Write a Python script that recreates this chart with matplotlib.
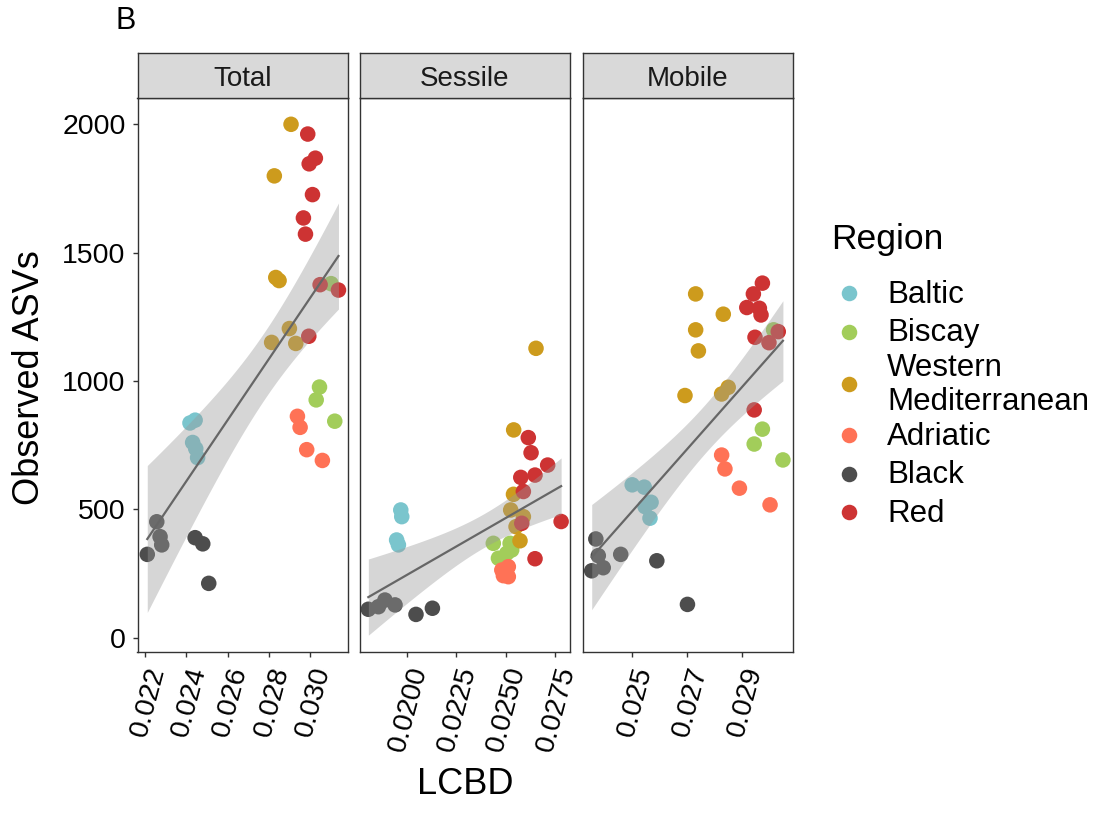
import numpy as np
import matplotlib
matplotlib.use("Agg")
import matplotlib.pyplot as plt

plt.rcParams['font.family'] = ['Liberation Sans', 'DejaVu Sans']

regions = ["Baltic", "Biscay", "Western\nMediterranean", "Adriatic", "Black", "Red"]
region_colors = ["#7AC5CD", "#A2CD5A", "#CD9B1D", "#FF7256", "#4D4D4D", "#CD3333"]
panels = ["Total", "Sessile", "Mobile"]
y_ticks = [0, 500, 1000, 1500, 2000]

# ---- Total ----
total_region = (["Baltic"] * 5 + ["Biscay"] * 4 + ["Western\nMediterranean"] * 7
                + ["Adriatic"] * 4 + ["Black"] * 7 + ["Red"] * 9)
total_lcbd = [0.02418, 0.02443, 0.02431, 0.02446, 0.02455,
              0.03102, 0.03046, 0.03030, 0.03120,
              0.02908, 0.02827, 0.02834, 0.02850, 0.02900, 0.02814, 0.02931,
              0.02939, 0.02952, 0.02984, 0.03060,
              0.02257, 0.02273, 0.02281, 0.02211, 0.02443, 0.02480, 0.02509,
              0.02989, 0.02996, 0.03026, 0.03012, 0.02968, 0.02978, 0.03049, 0.03138, 0.02994]
total_asv = [836, 847, 760, 736, 701,
             1379, 976, 926, 843,
             2000, 1799, 1403, 1391, 1204, 1150, 1146,
             862, 819, 732, 690,
             451, 393, 361, 324, 389, 365, 211,
             1962, 1846, 1868, 1726, 1635, 1572, 1375, 1354, 1174]
total_ticks = [0.022, 0.024, 0.026, 0.028, 0.030]
total_ticklabels = ["0.022", "0.024", "0.026", "0.028", "0.030"]

# ---- Sessile ----
sessile_region = (["Baltic"] * 4 + ["Biscay"] * 5 + ["Western\nMediterranean"] * 7
                  + ["Adriatic"] * 4 + ["Black"] * 6 + ["Red"] * 9)
sessile_lcbd = [0.01970, 0.01975, 0.01949, 0.01958,
                0.02438, 0.02523, 0.02531, 0.02464, 0.02506,
                0.02541, 0.02540, 0.02526, 0.02590, 0.02553, 0.02573, 0.02654,
                0.02481, 0.02514, 0.02489, 0.02514,
                0.01806, 0.01857, 0.01890, 0.01941, 0.02047, 0.02130,
                0.02615, 0.02629, 0.02713, 0.02649, 0.02577, 0.02590, 0.02582, 0.02781, 0.02649]
sessile_asv = [497, 471, 380, 361,
               367, 367, 341, 309, 328,
               809, 558, 497, 471, 432, 377, 1127,
               263, 276, 241, 237,
               110, 120, 146, 127, 90, 114,
               779, 720, 672, 633, 624, 569, 445, 452, 307]
sessile_ticks = [0.0200, 0.0225, 0.0250, 0.0275]
sessile_ticklabels = ["0.0200", "0.0225", "0.0250", "0.0275"]

# ---- Mobile ----
mobile_region = (["Baltic"] * 5 + ["Biscay"] * 4 + ["Western\nMediterranean"] * 7
                 + ["Adriatic"] * 4 + ["Black"] * 7 + ["Red"] * 9)
mobile_lcbd = [0.02500, 0.02544, 0.02569, 0.02547, 0.02565,
               0.03017, 0.02976, 0.02946, 0.03051,
               0.02732, 0.02833, 0.02732, 0.02742, 0.02693, 0.02827, 0.02851,
               0.02827, 0.02839, 0.02892, 0.03004,
               0.02367, 0.02376, 0.02394, 0.02352, 0.02458, 0.02590, 0.02702,
               0.02976, 0.02943, 0.02919, 0.02965, 0.02971, 0.02949, 0.03000, 0.03034, 0.02946]
mobile_asv = [595, 586, 527, 510, 465,
              1199, 812, 754, 692,
              1339, 1260, 1199, 1117, 943, 949, 975,
              711, 657, 582, 517,
              384, 319, 272, 260, 324, 299, 129,
              1381, 1339, 1286, 1283, 1257, 1170, 1149, 1192, 887]
mobile_ticks = [0.025, 0.027, 0.029]
mobile_ticklabels = ["0.025", "0.027", "0.029"]

W, H = 1094, 814
fig = plt.figure(figsize=(W / 100, H / 100), dpi=100)

def px_axes(x0, y0, x1, y1):
    return fig.add_axes([x0 / W, 1 - y1 / H, (x1 - x0) / W, (y1 - y0) / H])

panel_px = [(137.5, 348), (360, 570), (583, 793)]
panel_top, panel_bot, strip_top = 98, 652, 53
xlims = [(0.021636, 0.031842), (0.017638, 0.028259), (0.023201, 0.030879)]
data = [(total_region, total_lcbd, total_asv, total_ticks, total_ticklabels),
        (sessile_region, sessile_lcbd, sessile_asv, sessile_ticks, sessile_ticklabels),
        (mobile_region, mobile_lcbd, mobile_asv, mobile_ticks, mobile_ticklabels)]
cmap = dict(zip(regions, region_colors))
edge = "#333333"
PT_S = 125

for i, (name, (x0, x1), xl, (reg, xs, ys, tks, tkl)) in enumerate(zip(panels, panel_px, xlims, data)):
    ax = px_axes(x0, panel_top, x1, panel_bot)
    xs = np.array(xs); ys = np.array(ys)
    cols = [cmap[r] for r in reg]
    ax.scatter(xs, ys, c=cols, s=PT_S, linewidths=0, zorder=2)
    # linear fit with 95% CI
    n = len(xs)
    b, a = np.polyfit(xs, ys, 1)
    xg = np.linspace(xs.min(), xs.max(), 80)
    yhat = a + b * xg
    resid = ys - (a + b * xs)
    s = np.sqrt(np.sum(resid ** 2) / (n - 2))
    se = s * np.sqrt(1 / n + (xg - xs.mean()) ** 2 / np.sum((xs - xs.mean()) ** 2))
    tval = 2.03
    ax.fill_between(xg, yhat - tval * se, yhat + tval * se, color="#999999", alpha=0.4,
                    linewidth=0, zorder=3)
    ax.plot(xg, yhat, color="#666666", lw=1.6, zorder=4)
    ax.set_xlim(*xl)
    ax.set_ylim(-56.5, 2102.5)
    ax.set_xticks(tks)
    ax.set_xticklabels(tkl, rotation=75, ha="right", va="top", rotation_mode="anchor",
                       fontsize=20.5, color="black")
    ax.set_yticks(y_ticks)
    if i == 0:
        ax.set_yticklabels([str(v) for v in y_ticks], fontsize=20.5, color="black")
    else:
        ax.tick_params(axis="y", left=False, labelleft=False)
    ax.tick_params(axis="both", length=3.6, width=1.0, color=edge, pad=5)
    for sp in ax.spines.values():
        sp.set_color(edge)
        sp.set_linewidth(1.0)
    # strip
    sax = px_axes(x0, strip_top, x1, panel_top)
    sax.set_facecolor("#D9D9D9")
    sax.set_xticks([]); sax.set_yticks([])
    for sp in sax.spines.values():
        sp.set_color(edge)
        sp.set_linewidth(1.0)
    sax.text(0.5, (panel_top - 86) / (panel_top - strip_top), name, ha="center", va="baseline",
             fontsize=20, color="#1A1A1A", transform=sax.transAxes)

fig.text(125.7 / W, 1 - 20.7 / H, "B", ha="center", va="center", fontsize=22)
fig.text(30 / W, 1 - 378 / H, "Observed ASVs", rotation=90, ha="center", va="center", fontsize=26)
fig.text(465 / W, 1 - 785 / H, "LCBD", ha="center", va="center", fontsize=26)

# legend drawn in a figure-wide pixel overlay
lax = fig.add_axes([0, 0, 1, 1], zorder=10)
lax.set_xlim(0, W); lax.set_ylim(H, 0)
lax.axis("off")
lax.text(831, 240, "Region", ha="left", va="center", fontsize=25.5)
cursor = 274.0
for lab, col in zip(regions, region_colors):
    nl = lab.count("\n") + 1
    h = 38.5 if nl == 1 else 65.0
    cy = cursor + h / 2
    lax.scatter([849], [cy], s=PT_S, c=col, linewidths=0)
    lax.text(887, cy + 1.5, lab, ha="left", va="center", fontsize=22.5, linespacing=1.15)
    cursor += h

fig.savefig("out.png", dpi=100)
